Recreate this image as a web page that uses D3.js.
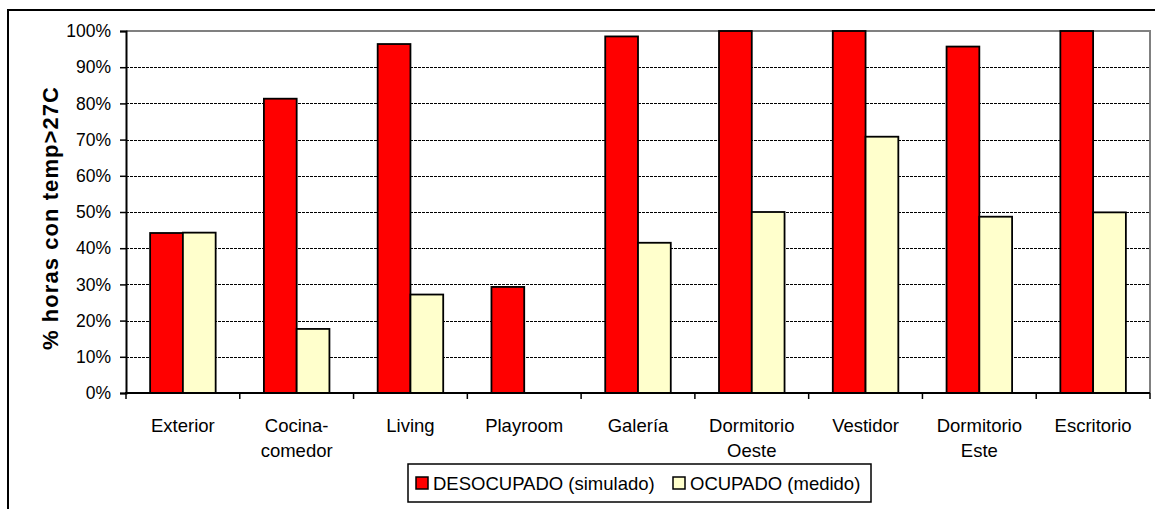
<!DOCTYPE html>
<html><head><meta charset="utf-8">
<script src="https://cdn.jsdelivr.net/npm/d3@7/dist/d3.min.js"></script>
<style>
html,body{margin:0;padding:0;background:#fff;}
svg{display:block;}
text{font-family:"Liberation Sans",Arial,sans-serif;fill:#000;}
</style></head>
<body>
<svg id="c" width="1155" height="509"></svg>
<script>
const categories = ["Exterior","Cocina-\ncomedor","Living","Playroom","Galería","Dormitorio\nOeste","Vestidor","Dormitorio\nEste","Escritorio"];
const seriesNames = ["DESOCUPADO (simulado)","OCUPADO (medido)"];
const desocupado = [44.2, 81.3, 96.4, 29.3, 98.5, 100, 100, 95.7, 100];
const ocupado = [44.3, 17.7, 27.2, 0, 41.5, 50, 70.8, 48.7, 49.9];
const yTicks = [0,10,20,30,40,50,60,70,80,90,100];
const colors = ["#FF0000","#FFFFCC"];

const svg = d3.select("#c");
const L = 126, R = 1150, T = 31, B = 393;

// outer frame
svg.append("rect").attr("x",8).attr("y",10).attr("width",1170).attr("height",520)
  .attr("fill","#fff").attr("stroke","#000").attr("stroke-width",2);

const x = d3.scaleBand().domain(d3.range(categories.length)).range([L,R]).padding(0);
const y = d3.scaleLinear().domain([0,100]).range([B,T]);
const bw = x.bandwidth()*0.288;
const xs = d3.scaleBand().domain([0,1]).range([0,2*bw]).padding(0);

// gridlines
svg.append("g").selectAll("line").data(yTicks.filter(d=>d>0 && d<100)).join("line")
  .attr("x1",L).attr("x2",R).attr("y1",d=>Math.round(y(d))+0.5).attr("y2",d=>Math.round(y(d))+0.5)
  .attr("stroke","#000").attr("stroke-width",1.2).attr("stroke-dasharray","3,1");

// plot border top/right gray
svg.append("path").attr("d",`M${L},${T}H${R}V${B}`).attr("fill","none")
  .attr("stroke","#808080").attr("stroke-width",2);

// bars
const data = [desocupado, ocupado];
data.forEach((vals,si)=>{
  svg.append("g").selectAll("rect").data(vals.map((v,i)=>({v,i}))).join("rect")
    .filter(d=>d.v>0)
    .attr("x",d=>x(d.i)+x.bandwidth()/2-bw+xs(si))
    .attr("y",d=>y(d.v))
    .attr("width",xs.bandwidth())
    .attr("height",d=>y(0)-y(d.v))
    .attr("fill",colors[si]).attr("stroke","#000").attr("stroke-width",1.8);
});

// y axis
const ya = svg.append("g").attr("transform",`translate(${L},0)`)
  .call(d3.axisLeft(y).tickValues(yTicks).tickFormat(d=>d+"%").tickSize(6).tickPadding(9));
ya.select(".domain").attr("stroke","#000").attr("stroke-width",2);
ya.selectAll(".tick line").attr("stroke","#000").attr("stroke-width",1.5);
ya.selectAll("text").attr("font-size","17.5px").attr("font-family","Liberation Sans, Arial, sans-serif");

// x axis line + boundary ticks
const xa = svg.append("g");
xa.append("line").attr("x1",L-1).attr("x2",R).attr("y1",B).attr("y2",B).attr("stroke","#000").attr("stroke-width",2);
xa.selectAll("line.t").data(d3.range(categories.length+1)).join("line").attr("class","t")
  .attr("x1",i=>L+i*x.bandwidth()).attr("x2",i=>L+i*x.bandwidth())
  .attr("y1",B).attr("y2",B+6).attr("stroke","#000").attr("stroke-width",1.5);

// x labels
categories.forEach((c,i)=>{
  const t = svg.append("text").attr("text-anchor","middle").attr("font-size","18.5px")
    .attr("x",x(i)+x.bandwidth()/2).attr("y",432);
  c.split("\n").forEach((line,k)=>{
    t.append("tspan").attr("x",x(i)+x.bandwidth()/2).attr("dy",k===0?0:25).text(line);
  });
});

// y title
svg.append("text").attr("transform",`translate(58,${(87+350)/2}) rotate(-90)`)
  .attr("text-anchor","middle").attr("font-weight","bold").attr("font-size","22px")
  .attr("textLength",263).attr("lengthAdjust","spacing")
  .text("% horas con temp>27C");

// legend
const lg = svg.append("g");
lg.append("rect").attr("x",408).attr("y",464).attr("width",463).attr("height",38)
  .attr("fill","#fff").attr("stroke","#000").attr("stroke-width",1.5);
const lx = [416, 673];
seriesNames.forEach((n,i)=>{
  lg.append("rect").attr("x",lx[i]).attr("y",477).attr("width",12).attr("height",12)
    .attr("fill",colors[i]).attr("stroke","#000").attr("stroke-width",1.5);
  lg.append("text").attr("x",lx[i]+17).attr("y",490).attr("font-size","18.5px").text(n);
});
</script>
</body></html>
